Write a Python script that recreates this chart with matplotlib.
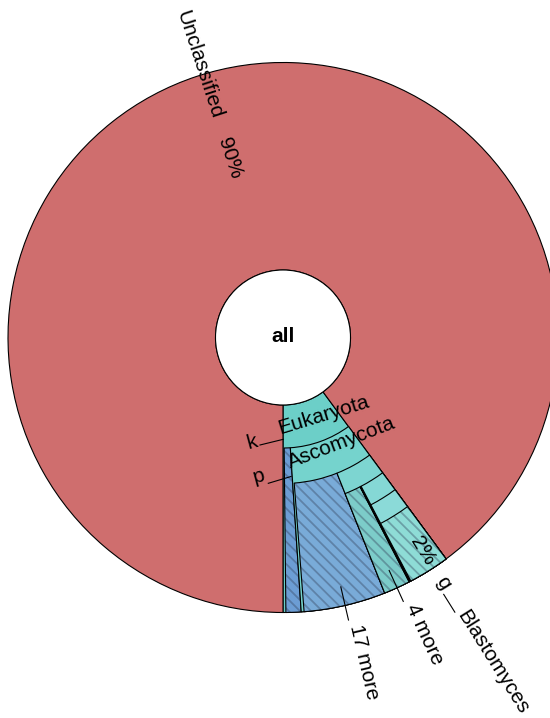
import numpy as np
import matplotlib
matplotlib.use("Agg")
import matplotlib.pyplot as plt
from matplotlib.patches import Wedge, Circle

plt.rcParams['font.family'] = ['Liberation Sans', 'DejaVu Sans']
plt.rcParams['hatch.linewidth'] = 1.3

# ---------------- data (percent of all reads) ----------------
node_names = ['all', 'Eukaryota', 'Unclassified', 'phylum (other)', 'Ascomycota',
              'class (17 more)', 'class', '4 more', 'minor 1', 'minor 2', 'minor 3',
              'order', 'family', 'Blastomyces']
node_parent = [-1, 0, 0, 1, 1, 4, 4, 6, 6, 6, 6, 6, 11, 12]
node_values = [100.0, 10.10, 89.90, 0.889, 9.044, 4.806, 4.072, 1.556,
               0.037, 0.037, 0.037, 2.405, 2.405, 2.405]
node_depth = [0, 1, 1, 2, 2, 3, 3, 4, 4, 4, 4, 4, 5, 6]
node_colors = ['#ffffff', '#6ccfc8', '#cf6e6e', '#6c9dd4', '#75d3cd',
               '#79abd8', '#7dd5d1', '#7cccc9', '#7dd5d1', '#7dd5d1', '#7dd5d1',
               '#85d8d5', '#8bdad8', '#8edcd6']
node_hatched = [False, False, False, True, False, True, False, True,
                False, False, False, False, False, True]
ring_inner = [67.5, 67.5, 110.5, 146.0, 168.0, 189.0, 210.0]   # by depth
outer_radius = 275.0

W, H = 550, 718
cx, cy = 283.0, H - 337.5

fig = plt.figure(figsize=(W / 100, H / 100), dpi=100)
ax = fig.add_axes([0, 0, 1, 1])
ax.set_xlim(0, W)
ax.set_ylim(0, H)
ax.axis('off')


def pt(r, th):
    t = np.deg2rad(th)
    return cx + r * np.sin(t), cy - r * np.cos(t)


def P(px, py):
    return px, H - py


# ---------------- layout (angles from straight down, counter-clockwise on screen) ----
n = len(node_names)
start = np.zeros(n)
span = np.zeros(n)
span[0] = 360.0
for i in range(n):
    kids = [k for k in range(n) if node_parent[k] == i]
    if not kids:
        continue
    tot = sum(node_values[k] for k in kids)
    a = start[i] + span[i] * (1 - tot / node_values[i])
    for k in kids:
        span[k] = span[i] * node_values[k] / node_values[i]
        start[k] = a
        a += span[k]

hatch_col = (0.2, 0.25, 0.35, 0.38)
for i in range(1, n):
    rin = ring_inner[node_depth[i]]
    t1 = -90 + start[i]
    t2 = -90 + start[i] + span[i]
    ax.add_patch(Wedge((cx, cy), outer_radius, t1, t2, width=outer_radius - rin,
                       facecolor=node_colors[i], edgecolor='none', lw=0))
    if node_hatched[i]:
        ax.add_patch(Wedge((cx, cy), outer_radius, t1, t2, width=outer_radius - rin,
                           fill=False, hatch='\\\\\\', edgecolor=hatch_col, lw=0))
    ax.add_patch(Wedge((cx, cy), outer_radius, t1, t2, width=outer_radius - rin,
                       fill=False, edgecolor='black', lw=0.8))

ax.add_patch(Circle((cx, cy), ring_inner[0], facecolor='white', edgecolor='black', lw=0.8))
ax.text(cx, cy + 1.5, 'all', ha='center', va='center', fontsize=15, fontweight='bold')

FS = 15


def center(i):
    return start[i] + span[i] / 2


# Unclassified (radial, reading inward)
tu = center(2)
x, y = pt(285.6, tu)
ax.text(x, y, 'Unclassified', rotation=tu - 270, rotation_mode='anchor',
        ha='center', va='baseline', fontsize=FS)
x, y = pt(187, tu)
ax.text(x, y, f'{node_values[2]:.0f}%', rotation=tu - 270, rotation_mode='anchor',
        ha='center', va='baseline', fontsize=FS)

# percentage in Blastomyces
tb = center(13)
x, y = pt(255, tb)
ax.text(x, y, f'{node_values[13]:.0f}%', rotation=tb - 90, rotation_mode='anchor',
        ha='center', va='baseline', fontsize=FS)

# "more" labels with leaders
for i, lab in [(5, '17 more'), (7, '4 more')]:
    th = center(i)
    x1, y1 = pt(256, th)
    x2, y2 = pt(290, th)
    ax.plot([x1, x2], [y1, y2], color='black', lw=0.8)
    x, y = pt(296, th)
    ax.text(x, y, lab, rotation=th - 90, rotation_mode='anchor',
            ha='left', va='baseline', fontsize=FS)

# genus label
x, y = pt(287, tb)
ax.text(x, y, 'g', rotation=tb - 90, rotation_mode='anchor', ha='left', va='baseline', fontsize=FS)
x1, y1 = pt(303, tb)
x2, y2 = pt(324, tb)
ax.plot([x1, x2], [y1, y2], color='black', lw=0.8)
x, y = pt(327, tb)
ax.text(x, y, node_names[13], rotation=tb - 90, rotation_mode='anchor',
        ha='left', va='baseline', fontsize=FS)

# tangential rank labels
ax.text(*P(258.5, 446), 'k', rotation=15, rotation_mode='anchor', ha='right', va='baseline', fontsize=FS)
ax.plot(*zip(P(260, 445), P(283.3, 439.3)), color='black', lw=0.8)
ax.text(*P(280, 434), node_names[1], rotation=17, rotation_mode='anchor', ha='left', va='baseline', fontsize=FS)

ax.text(*P(265.5, 480), 'p', rotation=15, rotation_mode='anchor', ha='right', va='baseline', fontsize=FS)
ax.plot(*zip(P(268.3, 483.3), P(291, 476.5)), color='black', lw=0.8)
ax.text(*P(291, 468), node_names[4], rotation=21, rotation_mode='anchor', ha='left', va='baseline', fontsize=FS)

fig.savefig('out.png', dpi=100)
